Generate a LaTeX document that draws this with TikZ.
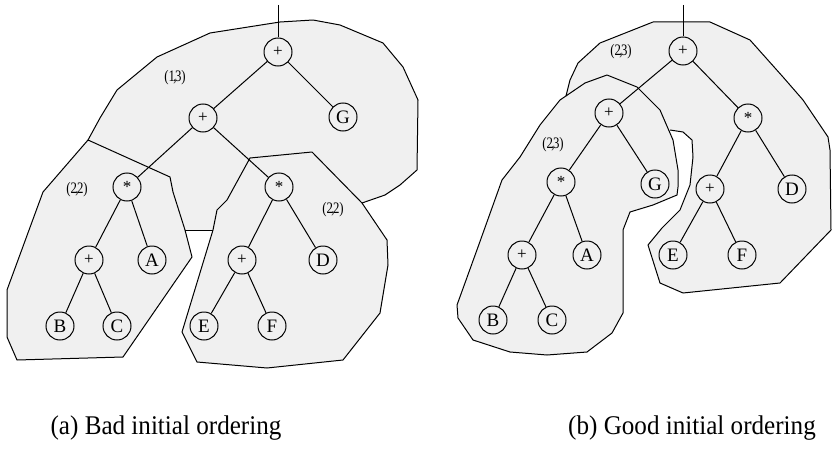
\documentclass[tikz,border=0pt]{standalone}
\usepackage{fontspec}
\setmainfont{Liberation Serif}
\usepackage{graphicx}
\tikzset{
 tn/.style={circle,draw,line width=1pt,minimum size=28pt,inner sep=0pt,font=\fontsize{19}{19}\selectfont},
 op/.style={tn,font=\fontsize{17}{17}\selectfont},
 hull/.style={line width=1pt,line join=round},
 shade/.style={fill=gray!12},
 edge/.style={line width=1pt},
 cost/.style={font=\fontsize{16}{16}\selectfont,inner sep=0pt},
 captext/.style={font=\fontsize{27}{27}\selectfont,inner sep=0pt}
}
\newcommand{\pr}[2]{\scalebox{0.8}[1]{(#1\kern-0.12em,\kern-0.12em#2)}}
\newcommand{\capt}[1]{\scalebox{0.93}[1]{#1}}
\begin{document}
\begin{tikzpicture}[x=1pt,y=-1pt]
\useasboundingbox[fill=white] (0,0) rectangle (832,452);
% ---------- (a) fills ----------
\fill[shade] (88,140) -- (100,118) -- (117,90) -- (157,57) -- (210,33) -- (280,22) -- (313,20) -- (340,25) -- (383,43) -- (403,67) -- (418,100) -- (417,170) -- (400,185) -- (385,195) -- (362,203) -- (312,152) -- (250,158) -- (227,200) -- (217,210) -- (213,230) -- (185,230) -- (173,192) -- (170,177) -- cycle;
\filldraw[shade,hull] (88,140) -- (170,177) -- (173,192) -- (185,230) -- (192,257) -- (123,357) -- (17,360) -- (7,337) -- (7,290) -- (43,192) -- cycle;
\filldraw[shade,hull] (250,158) -- (312,152) -- (362,203) -- (387,240) -- (388,265) -- (380,313) -- (343,360) -- (267,368) -- (197,362) -- (182,332) -- (213,230) -- (217,210) -- (227,200) -- cycle;
\draw[hull] (88,140) -- (100,118) -- (117,90) -- (157,57) -- (210,33) -- (280,22) -- (313,20) -- (340,25) -- (383,43) -- (403,67) -- (418,100) -- (417,170) -- (400,185) -- (385,195) -- (362,203);
\draw[hull] (185,230) -- (213,230);
% ---------- (b) fills ----------
\fill[shade] (566,96) -- (570,80) -- (578,63) -- (600,43) -- (653,22) -- (710,22) -- (750,40) -- (783,77) -- (803,100) -- (828,137) -- (830,150) -- (831,230) -- (780,283) -- (683,293) -- (660,283) -- (648,245) -- (662,228) -- (680,210) -- (690,185) -- (693,157) -- (692,140) -- (683,132) -- (670,130) -- (660,110) -- (637,87) -- (607,75) -- (585,83) -- cycle;
\filldraw[shade,hull] (502,180) -- (520,157) -- (540,125) -- (560,100) -- (585,83) -- (607,75) -- (637,87) -- (660,110) -- (673,140) -- (678,170) -- (678,187) -- (677,195) -- (653,205) -- (630,212) -- (623,230) -- (623,313) -- (612,333) -- (587,352) -- (547,355) -- (510,352) -- (473,340) -- (458,318) -- (457,305) -- (478,247) -- cycle;
\draw[hull] (566,96) -- (570,80) -- (578,63) -- (600,43) -- (653,22) -- (710,22) -- (750,40) -- (783,77) -- (803,100) -- (828,137) -- (830,150) -- (831,230) -- (780,283) -- (683,293) -- (660,283) -- (648,245) -- (662,228) -- (680,210) -- (690,185) -- (693,157) -- (692,140) -- (683,132) -- (670,130);
% ---------- (a) tree ----------
\coordinate (atop) at (278,5);
\node[op] (ar) at (278,52) {+};
\node[op] (ap) at (203,118) {+};
\node[tn] (aG) at (343,117) {G};
\node[op] (asl) at (127,187) {*};
\node[op] (asr) at (279,187) {*};
\node[op] (apl) at (89,260) {+};
\node[tn] (aA) at (152,260) {A};
\node[tn] (aB) at (60,326) {B};
\node[tn] (aC) at (117,326) {C};
\node[op] (apr) at (242,260) {+};
\node[tn] (aD) at (323,260) {D};
\node[tn] (aE) at (204,326) {E};
\node[tn] (aF) at (272,326) {F};
\draw[edge] (atop) -- (ar);
\draw[edge] (ar) -- (ap); \draw[edge] (ar) -- (aG);
\draw[edge] (ap) -- (asl); \draw[edge] (ap) -- (asr);
\draw[edge] (asl) -- (apl); \draw[edge] (asl) -- (aA);
\draw[edge] (apl) -- (aB); \draw[edge] (apl) -- (aC);
\draw[edge] (asr) -- (apr); \draw[edge] (asr) -- (aD);
\draw[edge] (apr) -- (aE); \draw[edge] (apr) -- (aF);
\node[cost] (c13) at (175,78) {\pr{1}{3}};
\node[cost] (c22a) at (77,190) {\pr{2}{2}};
\node[cost] (c22b) at (333,210) {\pr{2}{2}};
% ---------- (b) tree ----------
\coordinate (btop) at (683,5);
\node[op] (br) at (683,51) {+};
\node[op] (bp) at (609,113) {+};
\node[op] (bs) at (748,118) {*};
\node[op] (bsl) at (561,182) {*};
\node[tn] (bG) at (655,184) {G};
\node[op] (bpr) at (710,189) {+};
\node[tn] (bD) at (792,189) {D};
\node[op] (bpl) at (522,255) {+};
\node[tn] (bA) at (587,255) {A};
\node[tn] (bB) at (493,320) {B};
\node[tn] (bC) at (552,320) {C};
\node[tn] (bE) at (673,255) {E};
\node[tn] (bF) at (742,255) {F};
\draw[edge] (btop) -- (br);
\draw[edge] (br) -- (bp); \draw[edge] (br) -- (bs);
\draw[edge] (bp) -- (bsl); \draw[edge] (bp) -- (bG);
\draw[edge] (bsl) -- (bpl); \draw[edge] (bsl) -- (bA);
\draw[edge] (bpl) -- (bB); \draw[edge] (bpl) -- (bC);
\draw[edge] (bs) -- (bpr); \draw[edge] (bs) -- (bD);
\draw[edge] (bpr) -- (bE); \draw[edge] (bpr) -- (bF);
\node[cost] (c23a) at (621,52) {\pr{2}{3}};
\node[cost] (c23b) at (553,145) {\pr{2}{3}};
% ---------- captions ----------
\node[captext] (capa) at (166,428) {\capt{(a) Bad initial ordering}};
\node[captext] (capb) at (692,428) {\capt{(b) Good initial ordering}};
\end{tikzpicture}
\end{document}
